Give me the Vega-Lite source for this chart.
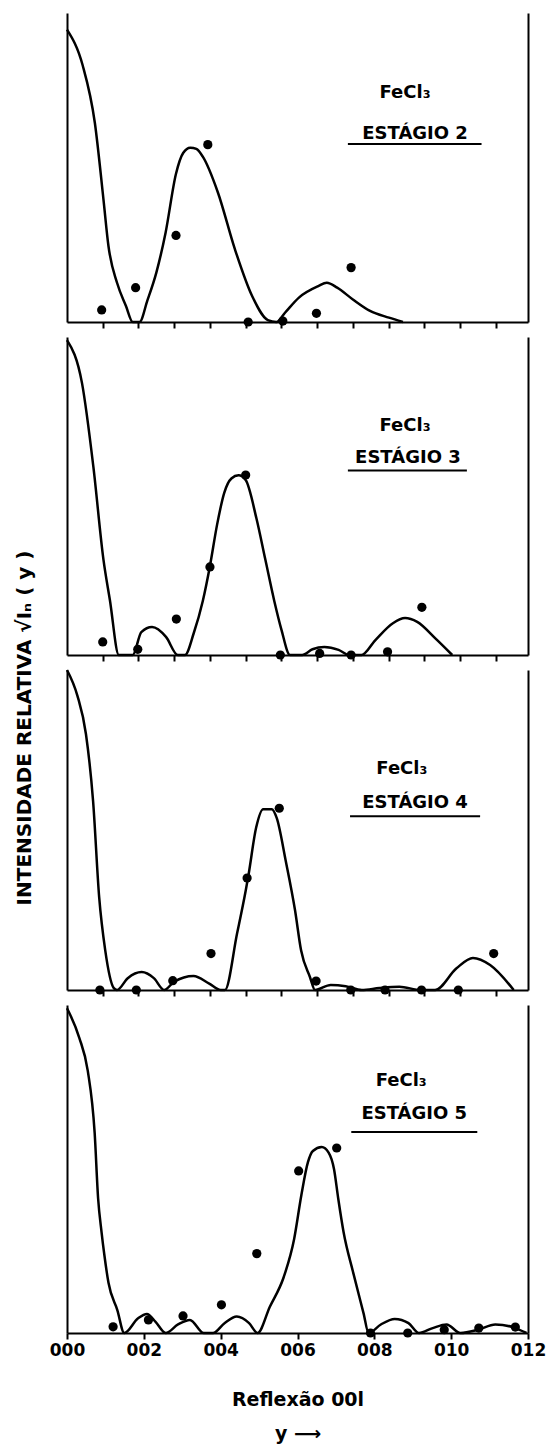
{
  "$schema": "https://vega.github.io/schema/vega-lite/v6.json",
  "background": "white",
  "padding": {"left": 15, "top": 13, "right": 2, "bottom": 2},
  "title": {"text": "INTENSIDADE  RELATIVA  √Iₙ ( y )", "orient": "left", "anchor": "middle", "fontSize": 20, "fontWeight": "bold", "font": "DejaVu Sans", "offset": 14, "color": "black"},
  "config": {
    "view": {"stroke": null},
    "font": "DejaVu Sans",
    "axis": {"domainColor": "black", "domainWidth": 2, "tickColor": "black", "tickWidth": 2, "grid": false, "labelColor": "black", "titleColor": "black"}
  },
  "datasets": {
    "c2": [
      {"x": 0, "y": 0.946}, {"x": 0.44, "y": 0.83}, {"x": 0.78, "y": 0.644}, {"x": 1.02, "y": 0.397}, {"x": 1.16, "y": 0.246}, {"x": 1.4, "y": 0.127}, {"x": 1.65, "y": 0.052}, {"x": 1.84, "y": 0}, {"x": 2.03, "y": 0}, {"x": 2.25, "y": 0.07}, {"x": 2.5, "y": 0.16}, {"x": 2.76, "y": 0.29}, {"x": 3.05, "y": 0.48}, {"x": 3.25, "y": 0.547}, {"x": 3.45, "y": 0.564}, {"x": 3.62, "y": 0.56}, {"x": 3.8, "y": 0.535}, {"x": 4.22, "y": 0.42}, {"x": 4.7, "y": 0.235}, {"x": 5.18, "y": 0.084}, {"x": 5.62, "y": 0.006}, {"x": 5.86, "y": 0}, {"x": 6.1, "y": 0.03}, {"x": 6.49, "y": 0.079}, {"x": 7.03, "y": 0.116}, {"x": 7.27, "y": 0.127}, {"x": 7.56, "y": 0.111}, {"x": 8.0, "y": 0.073}, {"x": 8.48, "y": 0.036}, {"x": 9.01, "y": 0.014}, {"x": 9.4, "y": 0}
    ],
    "p2": [
      {"x": 0.97, "y": 0.039}, {"x": 1.92, "y": 0.111}, {"x": 3.05, "y": 0.28}, {"x": 3.94, "y": 0.574}, {"x": 5.07, "y": 0}, {"x": 6.04, "y": 0.003}, {"x": 6.98, "y": 0.028}, {"x": 7.95, "y": 0.176}
    ],
    "c3": [
      {"x": 0, "y": 0.99}, {"x": 0.42, "y": 0.855}, {"x": 0.74, "y": 0.59}, {"x": 1.02, "y": 0.3}, {"x": 1.2, "y": 0.173}, {"x": 1.45, "y": 0}, {"x": 1.84, "y": 0}, {"x": 2.08, "y": 0.072}, {"x": 2.38, "y": 0.088}, {"x": 2.77, "y": 0.057}, {"x": 3.1, "y": 0}, {"x": 3.3, "y": 0}, {"x": 3.55, "y": 0.07}, {"x": 3.8, "y": 0.17}, {"x": 4.0, "y": 0.28}, {"x": 4.2, "y": 0.41}, {"x": 4.4, "y": 0.51}, {"x": 4.6, "y": 0.555}, {"x": 4.8, "y": 0.565}, {"x": 5.0, "y": 0.55}, {"x": 5.3, "y": 0.43}, {"x": 5.55, "y": 0.3}, {"x": 5.8, "y": 0.17}, {"x": 6.0, "y": 0.08}, {"x": 6.24, "y": 0}, {"x": 6.58, "y": 0}, {"x": 6.87, "y": 0.018}, {"x": 7.2, "y": 0.025}, {"x": 7.6, "y": 0.016}, {"x": 7.9, "y": 0}, {"x": 8.24, "y": 0}, {"x": 8.63, "y": 0.047}, {"x": 9.12, "y": 0.1}, {"x": 9.46, "y": 0.116}, {"x": 9.8, "y": 0.104}, {"x": 10.3, "y": 0.053}, {"x": 10.78, "y": 0}
    ],
    "p3": [
      {"x": 1.0, "y": 0.041}, {"x": 1.98, "y": 0.018}, {"x": 3.06, "y": 0.113}, {"x": 4.0, "y": 0.277}, {"x": 5.0, "y": 0.566}, {"x": 5.97, "y": 0}, {"x": 7.07, "y": 0.005}, {"x": 7.95, "y": 0}, {"x": 8.97, "y": 0.01}, {"x": 9.93, "y": 0.15}
    ],
    "c4": [
      {"x": 0, "y": 1.0}, {"x": 0.29, "y": 0.92}, {"x": 0.53, "y": 0.8}, {"x": 0.73, "y": 0.59}, {"x": 0.9, "y": 0.29}, {"x": 1.07, "y": 0.124}, {"x": 1.31, "y": 0.006}, {"x": 1.4, "y": 0}, {"x": 1.7, "y": 0.037}, {"x": 2.09, "y": 0.056}, {"x": 2.43, "y": 0.037}, {"x": 2.72, "y": 0}, {"x": 3.0, "y": 0.026}, {"x": 3.54, "y": 0.044}, {"x": 3.98, "y": 0.02}, {"x": 4.3, "y": 0}, {"x": 4.42, "y": 0}, {"x": 4.76, "y": 0.177}, {"x": 5.0, "y": 0.31}, {"x": 5.08, "y": 0.36}, {"x": 5.29, "y": 0.506}, {"x": 5.49, "y": 0.565}, {"x": 5.73, "y": 0.565}, {"x": 5.87, "y": 0.537}, {"x": 6.12, "y": 0.404}, {"x": 6.38, "y": 0.25}, {"x": 6.55, "y": 0.124}, {"x": 6.8, "y": 0.04}, {"x": 6.94, "y": 0}, {"x": 7.38, "y": 0.016}, {"x": 7.8, "y": 0.012}, {"x": 8.25, "y": 0}, {"x": 8.74, "y": 0.006}, {"x": 9.3, "y": 0.01}, {"x": 9.9, "y": 0}, {"x": 10.3, "y": 0}, {"x": 10.9, "y": 0.068}, {"x": 11.36, "y": 0.1}, {"x": 11.84, "y": 0.078}, {"x": 12.5, "y": 0}
    ],
    "p4": [
      {"x": 0.92, "y": 0}, {"x": 1.94, "y": 0}, {"x": 2.96, "y": 0.029}, {"x": 4.03, "y": 0.114}, {"x": 5.04, "y": 0.35}, {"x": 5.94, "y": 0.568}, {"x": 6.97, "y": 0.028}, {"x": 7.94, "y": 0}, {"x": 8.9, "y": 0}, {"x": 9.92, "y": 0}, {"x": 10.95, "y": 0}, {"x": 11.94, "y": 0.114}
    ],
    "c5": [
      {"x": 0, "y": 0.99}, {"x": 0.32, "y": 0.9}, {"x": 0.54, "y": 0.8}, {"x": 0.72, "y": 0.61}, {"x": 0.81, "y": 0.41}, {"x": 0.9, "y": 0.307}, {"x": 0.97, "y": 0.24}, {"x": 1.08, "y": 0.153}, {"x": 1.31, "y": 0.07}, {"x": 1.49, "y": 0}, {"x": 1.85, "y": 0.045}, {"x": 2.08, "y": 0.058}, {"x": 2.3, "y": 0.035}, {"x": 2.57, "y": 0}, {"x": 2.89, "y": 0.026}, {"x": 3.2, "y": 0.04}, {"x": 3.56, "y": 0}, {"x": 3.8, "y": 0}, {"x": 4.1, "y": 0.03}, {"x": 4.42, "y": 0.05}, {"x": 4.74, "y": 0.03}, {"x": 4.96, "y": 0}, {"x": 5.28, "y": 0.08}, {"x": 5.64, "y": 0.17}, {"x": 5.91, "y": 0.285}, {"x": 6.1, "y": 0.42}, {"x": 6.27, "y": 0.52}, {"x": 6.4, "y": 0.555}, {"x": 6.63, "y": 0.567}, {"x": 6.81, "y": 0.55}, {"x": 6.95, "y": 0.5}, {"x": 7.06, "y": 0.41}, {"x": 7.2, "y": 0.307}, {"x": 7.45, "y": 0.184}, {"x": 7.72, "y": 0.06}, {"x": 7.85, "y": 0}, {"x": 8.17, "y": 0.026}, {"x": 8.53, "y": 0.043}, {"x": 8.89, "y": 0.03}, {"x": 9.16, "y": 0}, {"x": 9.52, "y": 0.015}, {"x": 9.88, "y": 0.026}, {"x": 10.24, "y": 0}, {"x": 10.7, "y": 0.01}, {"x": 11.15, "y": 0.026}, {"x": 11.6, "y": 0.018}, {"x": 11.96, "y": 0}
    ],
    "p5": [
      {"x": 1.2, "y": 0.019}, {"x": 2.12, "y": 0.04}, {"x": 3.02, "y": 0.052}, {"x": 4.02, "y": 0.086}, {"x": 4.94, "y": 0.242}, {"x": 6.03, "y": 0.494}, {"x": 7.02, "y": 0.564}, {"x": 7.9, "y": 0}, {"x": 8.87, "y": 0}, {"x": 9.82, "y": 0.01}, {"x": 10.72, "y": 0.015}, {"x": 11.67, "y": 0.018}
    ],
    "one": [{}]
  },
  "spacing": 15,
  "bounds": "flush",
  "vconcat": [
    {
      "width": 461, "height": 309,
      "resolve": {"axis": {"y": "independent"}},
      "layer": [
        {"data": {"name": "c2"}, "mark": {"type": "line", "color": "black", "strokeWidth": 2.5, "interpolate": "monotone"},
         "encoding": {"x": {"field": "x", "type": "quantitative", "scale": {"domain": [0, 12.9], "nice": false, "zero": false}, "axis": {"values": [1,2,3,4,5,6,7,8,9,10,11,12], "labels": false, "ticks": true, "tickSize": 6, "title": null}},
                      "y": {"field": "y", "type": "quantitative", "scale": {"domain": [0, 1], "nice": false}, "axis": {"labels": false, "ticks": false, "title": null, "orient": "left"}}}},
        {"data": {"name": "p2"}, "mark": {"type": "circle", "color": "black", "size": 85, "opacity": 1},
         "encoding": {"x": {"field": "x", "type": "quantitative"},
                      "y": {"field": "y", "type": "quantitative", "axis": {"labels": false, "ticks": false, "title": null, "orient": "right"}}}},
        {"data": {"name": "one"}, "mark": {"type": "text", "text": "FeCl₃", "fontSize": 18, "fontWeight": "bold", "color": "black", "align": "center", "baseline": "middle"},
         "encoding": {"x": {"datum": 9.46}, "y": {"datum": 0.74, "axis": null}}},
        {"data": {"name": "one"}, "mark": {"type": "text", "text": "ESTÁGIO 2", "fontSize": 18, "fontWeight": "bold", "color": "black", "align": "center", "baseline": "middle"},
         "encoding": {"x": {"datum": 9.74}, "y": {"datum": 0.61, "axis": null}}},
        {"data": {"name": "one"}, "mark": {"type": "rule", "color": "black", "strokeWidth": 2},
         "encoding": {"x": {"datum": 7.86}, "x2": {"datum": 11.6}, "y": {"datum": 0.576, "axis": null}}}
      ]
    },
    {
      "width": 461, "height": 318,
      "resolve": {"axis": {"y": "independent"}},
      "layer": [
        {"data": {"name": "c3"}, "mark": {"type": "line", "color": "black", "strokeWidth": 2.5, "interpolate": "monotone"},
         "encoding": {"x": {"field": "x", "type": "quantitative", "scale": {"domain": [0, 12.9], "nice": false, "zero": false}, "axis": {"values": [1,2,3,4,5,6,7,8,9,10,11,12], "labels": false, "ticks": true, "tickSize": 6, "title": null}},
                      "y": {"field": "y", "type": "quantitative", "scale": {"domain": [0, 1], "nice": false}, "axis": {"labels": false, "ticks": false, "title": null, "orient": "left"}}}},
        {"data": {"name": "p3"}, "mark": {"type": "circle", "color": "black", "size": 85, "opacity": 1},
         "encoding": {"x": {"field": "x", "type": "quantitative"},
                      "y": {"field": "y", "type": "quantitative", "axis": {"labels": false, "ticks": false, "title": null, "orient": "right"}}}},
        {"data": {"name": "one"}, "mark": {"type": "text", "text": "FeCl₃", "fontSize": 18, "fontWeight": "bold", "color": "black", "align": "center", "baseline": "middle"},
         "encoding": {"x": {"datum": 9.46}, "y": {"datum": 0.72, "axis": null}}},
        {"data": {"name": "one"}, "mark": {"type": "text", "text": "ESTÁGIO 3", "fontSize": 18, "fontWeight": "bold", "color": "black", "align": "center", "baseline": "middle"},
         "encoding": {"x": {"datum": 9.54}, "y": {"datum": 0.62, "axis": null}}},
        {"data": {"name": "one"}, "mark": {"type": "rule", "color": "black", "strokeWidth": 2},
         "encoding": {"x": {"datum": 7.86}, "x2": {"datum": 11.19}, "y": {"datum": 0.58, "axis": null}}}
      ]
    },
    {
      "width": 461, "height": 320,
      "resolve": {"axis": {"y": "independent"}},
      "layer": [
        {"data": {"name": "c4"}, "mark": {"type": "line", "color": "black", "strokeWidth": 2.5, "interpolate": "monotone"},
         "encoding": {"x": {"field": "x", "type": "quantitative", "scale": {"domain": [0, 12.9], "nice": false, "zero": false}, "axis": {"values": [1,2,3,4,5,6,7,8,9,10,11,12], "labels": false, "ticks": true, "tickSize": 6, "title": null}},
                      "y": {"field": "y", "type": "quantitative", "scale": {"domain": [0, 1], "nice": false}, "axis": {"labels": false, "ticks": false, "title": null, "orient": "left"}}}},
        {"data": {"name": "p4"}, "mark": {"type": "circle", "color": "black", "size": 85, "opacity": 1},
         "encoding": {"x": {"field": "x", "type": "quantitative"},
                      "y": {"field": "y", "type": "quantitative", "axis": {"labels": false, "ticks": false, "title": null, "orient": "right"}}}},
        {"data": {"name": "one"}, "mark": {"type": "text", "text": "FeCl₃", "fontSize": 18, "fontWeight": "bold", "color": "black", "align": "center", "baseline": "middle"},
         "encoding": {"x": {"datum": 9.37}, "y": {"datum": 0.69, "axis": null}}},
        {"data": {"name": "one"}, "mark": {"type": "text", "text": "ESTÁGIO 4", "fontSize": 18, "fontWeight": "bold", "color": "black", "align": "center", "baseline": "middle"},
         "encoding": {"x": {"datum": 9.74}, "y": {"datum": 0.584, "axis": null}}},
        {"data": {"name": "one"}, "mark": {"type": "rule", "color": "black", "strokeWidth": 2},
         "encoding": {"x": {"datum": 7.92}, "x2": {"datum": 11.56}, "y": {"datum": 0.543, "axis": null}}}
      ]
    },
    {
      "width": 461, "height": 328,
      "resolve": {"axis": {"y": "independent"}},
      "layer": [
        {"data": {"name": "c5"}, "mark": {"type": "line", "color": "black", "strokeWidth": 2.5, "interpolate": "monotone"},
         "encoding": {"x": {"field": "x", "type": "quantitative", "scale": {"domain": [0, 12], "nice": false, "zero": false},
                            "axis": {"values": [0,1,2,3,4,5,6,7,8,9,10,11,12], "tickSize": 6, "labelFlush": false, "labelOverlap": false, "labelPadding": 3, "labelFontSize": 17, "labelFontWeight": "bold", "labelFont": "DejaVu Sans",
                                     "labelExpr": "datum.value % 2 == 0 ? (datum.value < 10 ? '00' + datum.value : '0' + datum.value) : ''",
                                     "title": ["Reflexão 00l", "y ⟶"], "titleFontSize": 19, "titleFontWeight": "bold", "titleFont": "DejaVu Sans", "titlePadding": 32, "titleLineHeight": 34}},
                      "y": {"field": "y", "type": "quantitative", "scale": {"domain": [0, 1], "nice": false}, "axis": {"labels": false, "ticks": false, "title": null, "orient": "left"}}}},
        {"data": {"name": "p5"}, "mark": {"type": "circle", "color": "black", "size": 85, "opacity": 1},
         "encoding": {"x": {"field": "x", "type": "quantitative"},
                      "y": {"field": "y", "type": "quantitative", "axis": {"labels": false, "ticks": false, "title": null, "orient": "right"}}}},
        {"data": {"name": "one"}, "mark": {"type": "text", "text": "FeCl₃", "fontSize": 18, "fontWeight": "bold", "color": "black", "align": "center", "baseline": "middle"},
         "encoding": {"x": {"datum": 8.7}, "y": {"datum": 0.767, "axis": null}}},
        {"data": {"name": "one"}, "mark": {"type": "text", "text": "ESTÁGIO 5", "fontSize": 18, "fontWeight": "bold", "color": "black", "align": "center", "baseline": "middle"},
         "encoding": {"x": {"datum": 9.04}, "y": {"datum": 0.669, "axis": null}}},
        {"data": {"name": "one"}, "mark": {"type": "rule", "color": "black", "strokeWidth": 2},
         "encoding": {"x": {"datum": 7.4}, "x2": {"datum": 10.68}, "y": {"datum": 0.613, "axis": null}}}
      ]
    }
  ]
}
